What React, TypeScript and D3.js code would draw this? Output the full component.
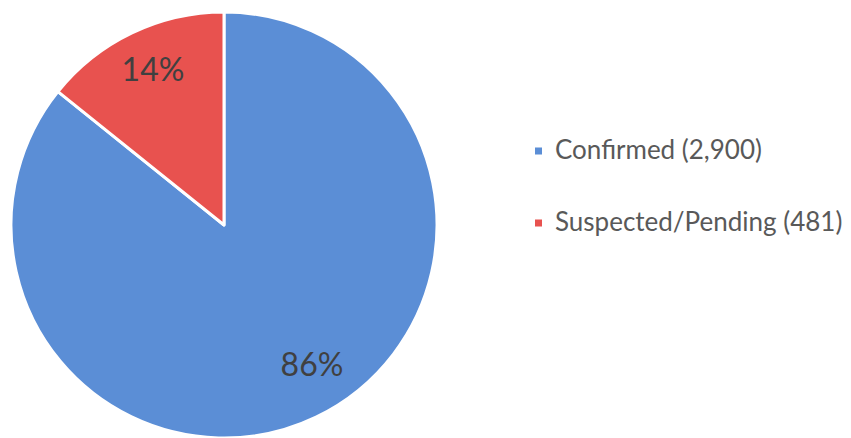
import React from "react";
import * as d3 from "d3";

const categories = ["Confirmed", "Suspected/Pending"];
const counts = [2900, 481];
const percentLabels = ["86%", "14%"];
const legendLabels = ["Confirmed (2,900)", "Suspected/Pending (481)"];
const colors = ["#5B8ED6", "#E8524F"];

export default function App() {
  const W = 851, H = 438;
  const cx = 224, cy = 225, r = 213;
  const pie = d3.pie<number>().sort(null).value((d) => d);
  const arcs = pie(counts);
  const arcGen = d3.arc<d3.PieArcDatum<number>>().innerRadius(0).outerRadius(r);
  const labelPos = [
    [312, 376],
    [153, 81],
  ];
  return (
    <svg width={W} height={H} style={{ position: "absolute", left: 0, top: 0, background: "#fff" }}>
      <g transform={`translate(${cx},${cy})`}>
        {arcs.map((a, i) => (
          <path key={categories[i]} d={arcGen(a) || ""} fill={colors[i]} stroke="#fff" strokeWidth={3} strokeLinejoin="round" />
        ))}
      </g>
      {arcs.map((a, i) => (
        <text
          key={"l" + i}
          x={labelPos[i][0]}
          y={labelPos[i][1]}
          textAnchor="middle"
          fontFamily="Lato, 'Open Sans', sans-serif"
          fontSize={32}
          fill="#404040"
        >
          {percentLabels[i]}
        </text>
      ))}
      {legendLabels.map((t, i) => (
        <g key={t} transform={`translate(535, ${151 + i * 72})`}>
          <rect x={0} y={-3.5} width={7} height={7} fill={colors[i]} />
          <text x={20} y={8} fontFamily="Lato, 'Open Sans', sans-serif" fontSize={26} fill="#595959">
            {t}
          </text>
        </g>
      ))}
    </svg>
  );
}
